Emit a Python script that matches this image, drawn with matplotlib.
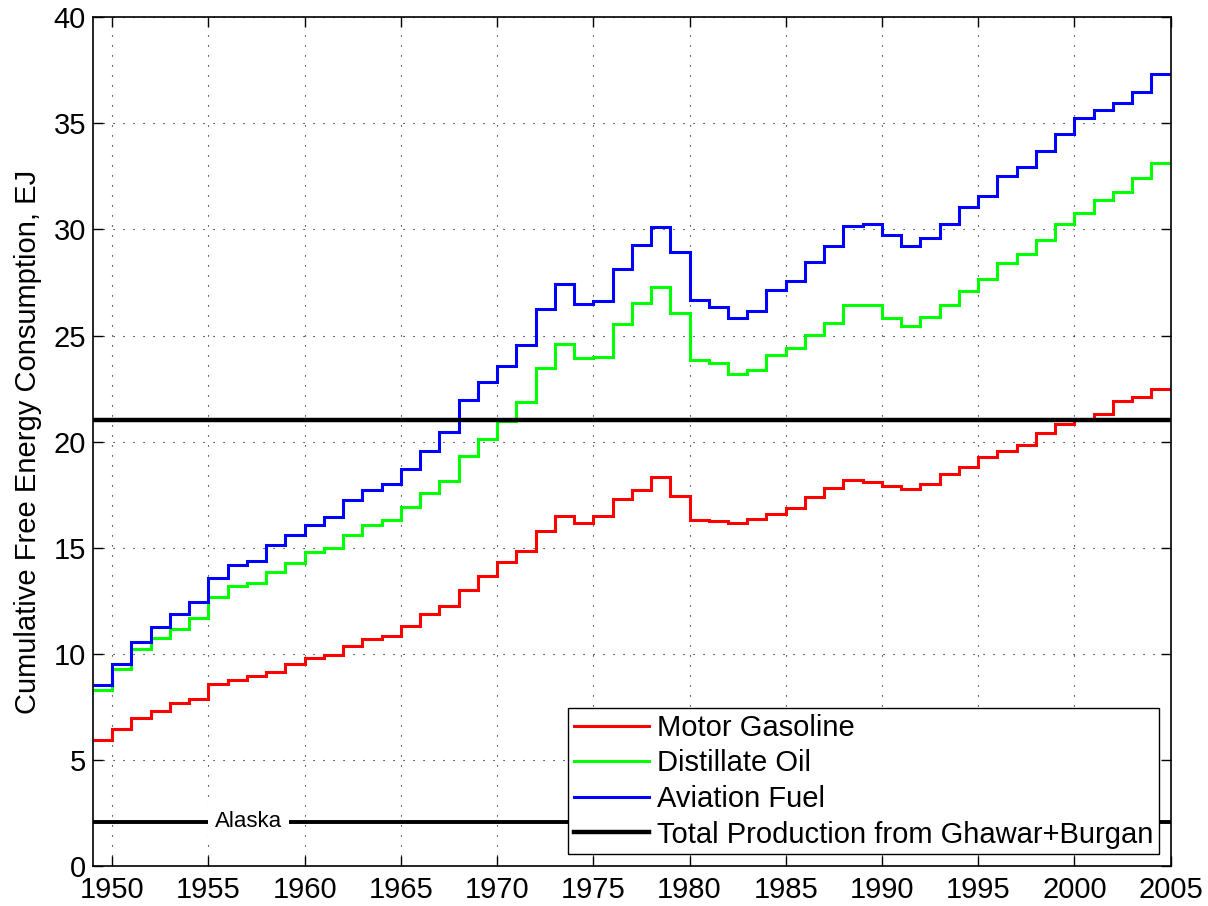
import numpy as np
import matplotlib
matplotlib.use("Agg")
import matplotlib.pyplot as plt

plt.rcParams["font.family"] = ["Liberation Sans", "DejaVu Sans"]

# Yearly values, each held from the start of the year to the next one.
years = np.arange(1949, 2006)

motor_gasoline = [
    5.94, 6.45, 7.00, 7.30, 7.67, 7.86, 8.56, 8.78, 8.94, 9.14,
    9.52, 9.81, 9.95, 10.35, 10.69, 10.86, 11.32, 11.87, 12.24, 13.03,
    13.65, 14.31, 14.87, 15.80, 16.51, 16.19, 16.51, 17.30, 17.74, 18.33,
    17.42, 16.30, 16.26, 16.19, 16.35, 16.60, 16.87, 17.37, 17.81, 18.18,
    18.10, 17.89, 17.77, 18.00, 18.47, 18.80, 19.28, 19.58, 19.83, 20.41,
    20.85, 21.02, 21.31, 21.90, 22.09, 22.48,
]
distillate_oil = [
    8.30, 9.31, 10.22, 10.74, 11.16, 11.67, 12.70, 13.21, 13.35, 13.87,
    14.28, 14.78, 14.97, 15.61, 16.07, 16.29, 16.92, 17.59, 18.14, 19.31,
    20.14, 20.97, 21.87, 23.47, 24.62, 23.92, 23.99, 25.53, 26.52, 27.31,
    26.07, 23.84, 23.73, 23.19, 23.40, 24.07, 24.42, 25.03, 25.60, 26.42,
    26.42, 25.83, 25.44, 25.88, 26.45, 27.11, 27.67, 28.43, 28.85, 29.48,
    30.24, 30.79, 31.37, 31.78, 32.41, 33.15,
]
aviation_fuel = [
    8.54, 9.54, 10.58, 11.27, 11.90, 12.44, 13.57, 14.21, 14.37, 15.11,
    15.60, 16.08, 16.43, 17.25, 17.74, 18.02, 18.73, 19.54, 20.44, 21.95,
    22.81, 23.55, 24.54, 26.26, 27.42, 26.51, 26.62, 28.15, 29.29, 30.13,
    28.93, 26.67, 26.35, 25.82, 26.16, 27.14, 27.58, 28.46, 29.21, 30.16,
    30.27, 29.74, 29.22, 29.60, 30.27, 31.04, 31.57, 32.50, 32.95, 33.68,
    34.51, 35.24, 35.65, 35.96, 36.46, 37.31,
]

ghawar_burgan = 21.0
alaska = 2.1

fig = plt.figure(figsize=(12.08, 9.06), dpi=100)
ax = fig.add_axes([0.077, 0.044, 0.892, 0.937])

ax.stairs(motor_gasoline, years, baseline=None, color="#ff0000", lw=2.2,
          label="Motor Gasoline")
ax.stairs(distillate_oil, years, baseline=None, color="#00ff00", lw=2.2,
          label="Distillate Oil")
ax.stairs(aviation_fuel, years, baseline=None, color="#0000ff", lw=2.2,
          label="Aviation Fuel")
ax.axhline(ghawar_burgan, color="black", lw=3.2,
           label="Total Production from Ghawar+Burgan")
ax.axhline(alaska, color="black", lw=2.8)
ax.text(1957.1, alaska, "Alaska", fontsize=16, ha="center", va="center",
        bbox=dict(facecolor="white", edgecolor="none", pad=5))

ax.set_xlim(1949, 2005)
ax.set_ylim(0, 40)
ax.set_xticks(np.arange(1950, 2006, 5))
ax.set_yticks(np.arange(0, 41, 5))
ax.tick_params(direction="in", length=7, width=1, labelsize=21,
               top=True, right=True)
ax.tick_params(axis="x", pad=7)
ax.tick_params(axis="y", pad=5)
ax.grid(True, color="black", linestyle=(0, (1, 8)), linewidth=0.8)
ax.set_axisbelow(True)
for spine in ax.spines.values():
    spine.set_linewidth(1.2)

ax.set_ylabel("Cumulative Free Energy Consumption, EJ", fontsize=21,
              labelpad=8)

leg = ax.legend(loc="lower right", fontsize=21, frameon=True, fancybox=False,
                framealpha=1, edgecolor="black", handlelength=2.6,
                labelspacing=0.26, borderaxespad=0.4, borderpad=0.2,
                handletextpad=0.25)
leg.get_frame().set_linewidth(1.0)

fig.savefig("out.png", dpi=100)
